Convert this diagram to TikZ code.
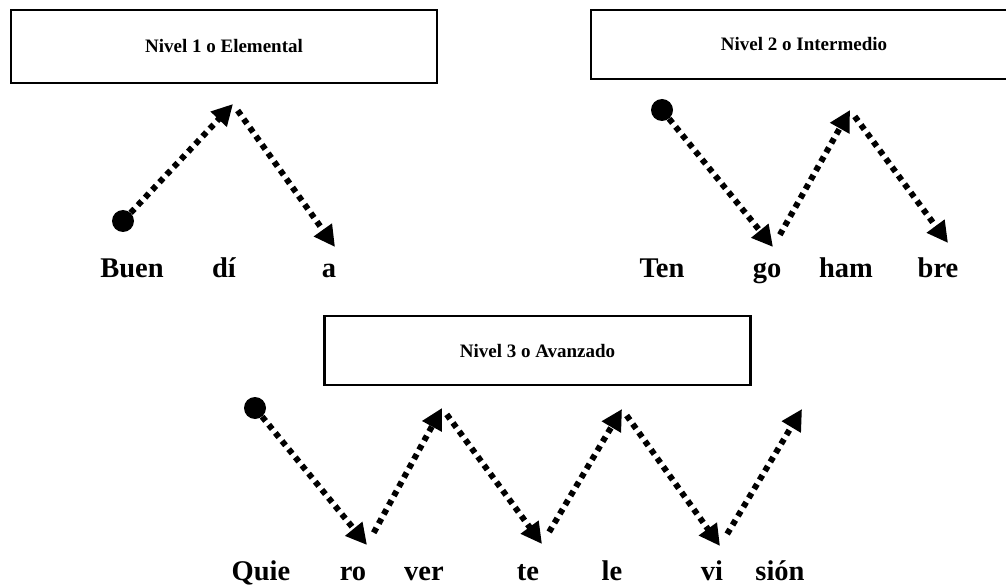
\documentclass[tikz,border=0pt]{standalone}
\usepackage{fontspec}
\setmainfont{Liberation Serif}
\usetikzlibrary{arrows.meta}
\begin{document}
\begin{tikzpicture}[x=1pt,y=-1pt,
  lvlbox/.style={draw,line width=2.5pt,inner sep=0,minimum width=426pt,font=\fontsize{19}{22}\selectfont\bfseries},
  syl/.style={font=\fontsize{28.5}{32}\selectfont\bfseries,anchor=base,inner sep=0},
  startdot/.style={circle,fill,inner sep=0,minimum size=22pt},
  zig/.style={line width=6pt,dash pattern=on 5.5pt off 5pt,-{Triangle[length=21pt,width=21pt]}},
  fromtip/.style={shorten <=14pt},
  fromapex/.style={shorten <=8pt},
]
\useasboundingbox (0,0) rectangle (1006,585);
% level boxes
\node[lvlbox,minimum height=73pt] (box1) at (224,46.5) {Nivel 1 o Elemental};
\node[lvlbox,minimum height=69pt] (box2) at (804,44.5) {Nivel 2 o Intermedio};
\node[lvlbox,minimum height=69pt] (box3) at (537.5,350.5) {Nivel 3 o Avanzado};
% row 1
\node[syl] (w11) at (132,277) {Buen};
\node[syl] (w12) at (224,277) {dí};
\node[syl] (w13) at (329,277) {a};
\node[startdot] (d1) at (123,221) {};
\coordinate (a1) at (233,104);
\coordinate (e1) at (335,247);
\draw[zig] (d1) -- (a1);
\draw[zig,fromapex] (a1) -- (e1);
% row 2
\node[syl] (w21) at (662,277) {Ten};
\node[syl] (w22) at (767,277) {go};
\node[syl] (w23) at (846,277) {ham};
\node[syl] (w24) at (938,277) {bre};
\node[startdot] (d2) at (662,110) {};
\coordinate (e2) at (773,247);
\coordinate (a2) at (850,110);
\coordinate (e3) at (948,243);
\draw[zig] (d2) -- (e2);
\draw[zig,fromtip] (e2) -- (a2);
\draw[zig,fromapex] (a2) -- (e3);
% row 3
\node[syl] (w31) at (261,580) {Quie};
\node[syl] (w32) at (353,580) {ro};
\node[syl] (w33) at (424,580) {ver};
\node[syl] (w34) at (528,580) {te};
\node[syl] (w35) at (612,580) {le};
\node[syl] (w36) at (712,580) {vi};
\node[syl] (w37) at (780,580) {sión};
\node[startdot] (d3) at (255,408) {};
\coordinate (e4) at (367,545);
\coordinate (a3) at (442,408);
\coordinate (e5) at (542,544);
\coordinate (a4) at (622,409);
\coordinate (e6) at (720,546);
\coordinate (a5) at (802,409);
\draw[zig] (d3) -- (e4);
\draw[zig,fromtip] (e4) -- (a3);
\draw[zig,fromapex] (a3) -- (e5);
\draw[zig,fromtip] (e5) -- (a4);
\draw[zig,fromapex] (a4) -- (e6);
\draw[zig,fromtip] (e6) -- (a5);
\end{tikzpicture}
\end{document}
